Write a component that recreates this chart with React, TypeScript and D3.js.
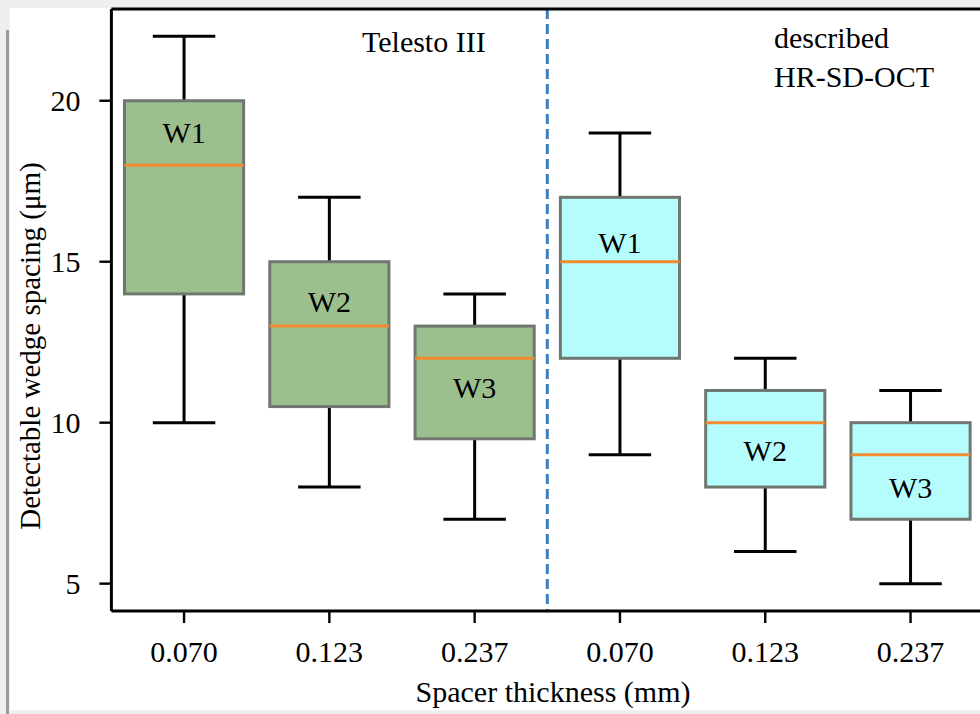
import React from "react";
import * as d3 from "d3";

// Spacer thickness categories (mm), two instruments side by side
const categories = ["0.070", "0.123", "0.237", "0.070", "0.123", "0.237"];
const instrument = ["Telesto III", "Telesto III", "Telesto III", "HR-SD-OCT", "HR-SD-OCT", "HR-SD-OCT"];
const wedgeLabels = ["W1", "W2", "W3", "W1", "W2", "W3"];

// Box statistics of detectable wedge spacing (µm)
const whiskerLow = [10, 8, 7, 9, 6, 5];
const q1 = [14, 10.5, 9.5, 12, 8, 7];
const median = [18, 13, 12, 15, 10, 9];
const q3 = [20, 15, 13, 17, 11, 10];
const whiskerHigh = [22, 17, 14, 19, 12, 11];

// Value at which each wedge label sits inside its box
const wedgeLabelAt = [19, 13.75, 11.1, 15.6, 9.15, 8.0];

const yTicks = [5, 10, 15, 20];

const W = 980;
const H = 714;
const FONT = "'Liberation Serif', 'Times New Roman', serif";
const FS = 30;

export default function App() {
  const left = 111.4;
  const step = 145.3;
  const top = 9;
  const bottom = 611;

  const x = d3.scaleLinear().domain([0.5, 6.5]).range([left, left + 6 * step]);
  const y = d3.scaleLinear().domain([4.15, 22.85]).range([bottom, top]);

  const boxW = 0.82;
  const capW = 0.43;
  const lw = 3;

  const fillFor = (i: number) => (instrument[i] === "Telesto III" ? "#9cbf8e" : "#b5fdfd");

  return (
    <svg
      width={W}
      height={H}
      style={{ position: "absolute", left: 0, top: 0, display: "block" }}
      fontFamily={FONT}
    >
      {/* page frame */}
      <rect x={0} y={0} width={W} height={H} fill="#efefef" />
      <rect x={10} y={8} width={W - 10} height={702} fill="#ffffff" />
      <rect x={6} y={30} width={3} height={H - 30} fill="#9a9a9a" />

      {/* group divider */}
      <line
        x1={x(3.5)}
        x2={x(3.5)}
        y1={top}
        y2={bottom}
        stroke="#3b7ebd"
        strokeWidth={3}
        strokeDasharray="10 5"
      />

      {/* boxes */}
      {categories.map((c, i) => {
        const cx = x(i + 1);
        const bx0 = x(i + 1 - boxW / 2);
        const bx1 = x(i + 1 + boxW / 2);
        const cx0 = x(i + 1 - capW / 2);
        const cx1 = x(i + 1 + capW / 2);
        return (
          <g key={i}>
            <line x1={cx} x2={cx} y1={y(whiskerLow[i])} y2={y(q1[i])} stroke="#000" strokeWidth={lw} />
            <line x1={cx} x2={cx} y1={y(q3[i])} y2={y(whiskerHigh[i])} stroke="#000" strokeWidth={lw} />
            <line x1={cx0} x2={cx1} y1={y(whiskerLow[i])} y2={y(whiskerLow[i])} stroke="#000" strokeWidth={lw} />
            <line x1={cx0} x2={cx1} y1={y(whiskerHigh[i])} y2={y(whiskerHigh[i])} stroke="#000" strokeWidth={lw} />
            <rect
              x={bx0}
              y={y(q3[i])}
              width={bx1 - bx0}
              height={y(q1[i]) - y(q3[i])}
              fill={fillFor(i)}
              stroke="#6f7770"
              strokeWidth={lw}
            />
            <line
              x1={bx0}
              x2={bx1}
              y1={y(median[i])}
              y2={y(median[i])}
              stroke="#f28a30"
              strokeWidth={3}
            />
            <text
              x={cx}
              y={y(wedgeLabelAt[i])}
              dy="0.35em"
              textAnchor="middle"
              fontSize={FS}
              fill="#000"
            >
              {wedgeLabels[i]}
            </text>
          </g>
        );
      })}

      {/* instrument annotations */}
      <text x={362} y={52} fontSize={FS} fill="#000">
        Telesto III
      </text>
      <text x={774} y={48} fontSize={FS} fill="#000">
        described
      </text>
      <text x={774} y={87} fontSize={FS} fill="#000">
        HR-SD-OCT
      </text>

      {/* spines */}
      <line x1={left} x2={W} y1={top} y2={top} stroke="#000" strokeWidth={lw} />
      <line x1={left} x2={W} y1={bottom} y2={bottom} stroke="#000" strokeWidth={lw} />
      <line x1={left} x2={left} y1={top} y2={bottom} stroke="#000" strokeWidth={lw} />

      {/* y axis ticks */}
      {yTicks.map((t) => (
        <g key={t}>
          <line x1={left - 12} x2={left} y1={y(t)} y2={y(t)} stroke="#000" strokeWidth={2.4} />
          <text x={left - 31} y={y(t)} dy="0.35em" textAnchor="end" fontSize={FS} fill="#000">
            {t}
          </text>
        </g>
      ))}

      {/* x axis ticks */}
      {categories.map((c, i) => (
        <g key={i}>
          <line x1={x(i + 1)} x2={x(i + 1)} y1={bottom} y2={bottom + 12} stroke="#000" strokeWidth={2.4} />
          <text x={x(i + 1)} y={662} textAnchor="middle" fontSize={FS} fill="#000">
            {c}
          </text>
        </g>
      ))}

      {/* axis titles */}
      <text x={553} y={702} textAnchor="middle" fontSize={FS} fill="#000">
        Spacer thickness (mm)
      </text>
      <text
        transform={`translate(40, 346) rotate(-90)`}
        textAnchor="middle"
        fontSize={29}
        fill="#000"
      >
        Detectable wedge spacing (μm)
      </text>
    </svg>
  );
}
